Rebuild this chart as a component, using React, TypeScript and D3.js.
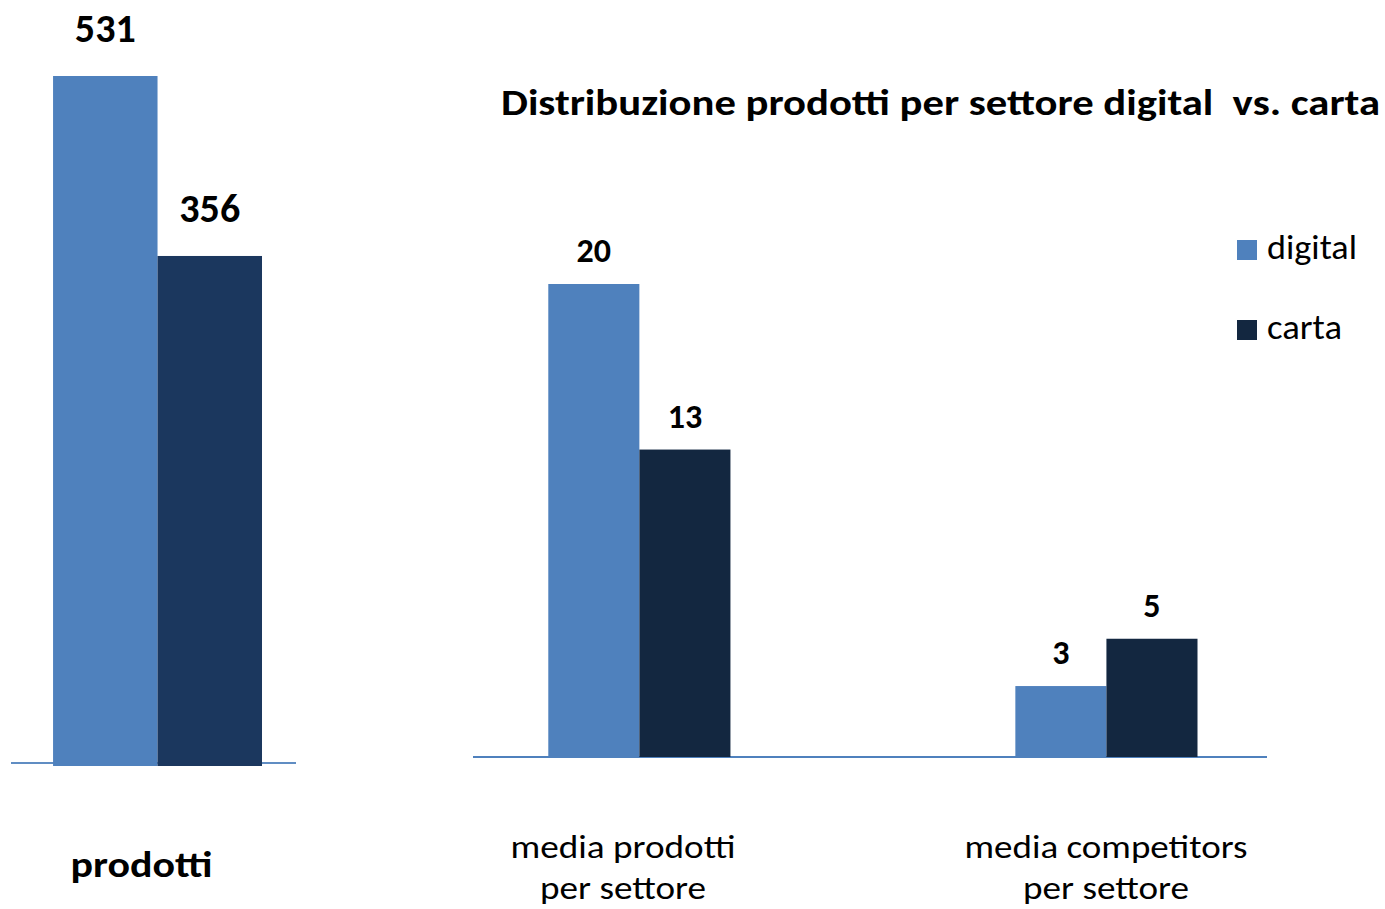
import * as d3 from "d3";

// series + categories
const series = ["digital", "carta"];
const leftCategories = ["prodotti"];
const leftValues = [[531, 356]];
const rightCategories = [["media prodotti", "per settore"], ["media competitors", "per settore"]];
const rightValues = [
  [20, 13],
  [3, 5],
];
const title = "Distribuzione prodotti per settore digital  vs. carta";

// the left panel's axis does not start at zero in the source picture
const leftDomain: [number, number] = [-137, 531];
const rightDomain: [number, number] = [0, 20];

const W = 1385;
const H = 909;
const FONT = "Carlito, Lato, 'Open Sans', sans-serif";
const BLUE = "#4f81bd";
const leftColors = ["#4f81bd", "#1b375e"];
const rightColors = ["#4f81bd", "#132740"];

// the source text is a bit wider than Lato, so stretch it to the measured widths
const textWidths: Record<string, number> = {
  [title]: 879,
  prodotti: 142,
  "media prodotti": 225,
  "media competitors": 283,
  "per settore": 166,
  digital: 90,
  carta: 75,
};

function Txt(props: any) {
  const { children, ...rest } = props;
  const w = textWidths[children as string];
  return (
    <text {...rest} textLength={w} lengthAdjust={w ? "spacingAndGlyphs" : undefined}>
      {children}
    </text>
  );
}

export default function App() {
  // left panel
  const xL = d3.scaleBand().domain(leftCategories).range([11, 296]).paddingInner(0).paddingOuter(0.182).align(0.553);
  const xLi = d3.scaleBand().domain(series).range([0, xL.bandwidth()]);
  const yL = d3.scaleLinear().domain(leftDomain).range([763, 76]);
  const baseL = 763;

  // right panel
  const keys = rightCategories.map((c) => c.join(" "));
  const xR = d3.scaleBand().domain(keys).range([473, 1267]).paddingInner(0.61).paddingOuter(0.155).align(0.52);
  const xRi = d3.scaleBand().domain(series).range([0, xR.bandwidth()]);
  const yR = d3.scaleLinear().domain(rightDomain).range([757, 284]);
  const baseR = yR(0);
  // category labels sit a little apart from the bar groups in the source
  const xLab = d3.scalePoint().domain(keys).range([623, 1106]);

  return (
    <svg width={W} height={H} style={{ position: "absolute", left: 0, top: 0, background: "#fff" }} fontFamily={FONT}>
      <rect width={W} height={H} fill="#fff" />

      {/* left panel */}
      <line x1={11} x2={296} y1={baseL} y2={baseL} stroke={BLUE} strokeWidth={2} opacity={0.9} />
      {leftCategories.map((c, ci) => (
        <g key={c} transform={`translate(${xL(c)},0)`}>
          {series.map((s, si) => {
            const v = leftValues[ci][si];
            return (
              <g key={s}>
                <rect x={xLi(s)} y={yL(v)} width={xLi.bandwidth()} height={baseL + 3 - yL(v)} fill={leftColors[si]} />
                <text x={xLi(s)! + xLi.bandwidth() / 2} y={yL(v) - 34} textAnchor="middle" fontSize={40} fontWeight="bold" fill="#000">
                  {v}
                </text>
              </g>
            );
          })}
          <Txt x={xL.bandwidth() / 2 - 16} y={877} textAnchor="middle" fontSize={37} fontWeight="bold" fill="#000">
            {c}
          </Txt>
        </g>
      ))}

      {/* right panel */}
      <Txt x={1380} y={115} textAnchor="end" fontSize={36} fontWeight="bold" fill="#000" style={{ whiteSpace: "pre" }}>
        {title}
      </Txt>
      <line x1={473} x2={1267} y1={baseR} y2={baseR} stroke={BLUE} strokeWidth={2} />
      {keys.map((k, ci) => (
        <g key={k} transform={`translate(${xR(k)},0)`}>
          {series.map((s, si) => {
            const v = rightValues[ci][si];
            return (
              <g key={s}>
                <rect x={xRi(s)} y={yR(v)} width={xRi.bandwidth()} height={baseR - yR(v)} fill={rightColors[si]} />
                <text x={xRi(s)! + xRi.bandwidth() / 2} y={yR(v) - 22} textAnchor="middle" fontSize={34} fontWeight="bold" fill="#000">
                  {v}
                </text>
              </g>
            );
          })}
        </g>
      ))}
      {keys.map((k, ci) =>
        rightCategories[ci].map((line, li) => (
          <Txt key={k + li} x={xLab(k)} y={858} dy={li * 41} textAnchor="middle" fontSize={33} fill="#000">
            {line}
          </Txt>
        )),
      )}

      {/* legend */}
      {series.map((s, i) => (
        <g key={s} transform={`translate(1237,${240 + i * 80})`}>
          <rect width={20} height={20} fill={rightColors[i]} />
          <Txt x={30} y={19} fontSize={34} fill="#000">
            {s}
          </Txt>
        </g>
      ))}
    </svg>
  );
}
